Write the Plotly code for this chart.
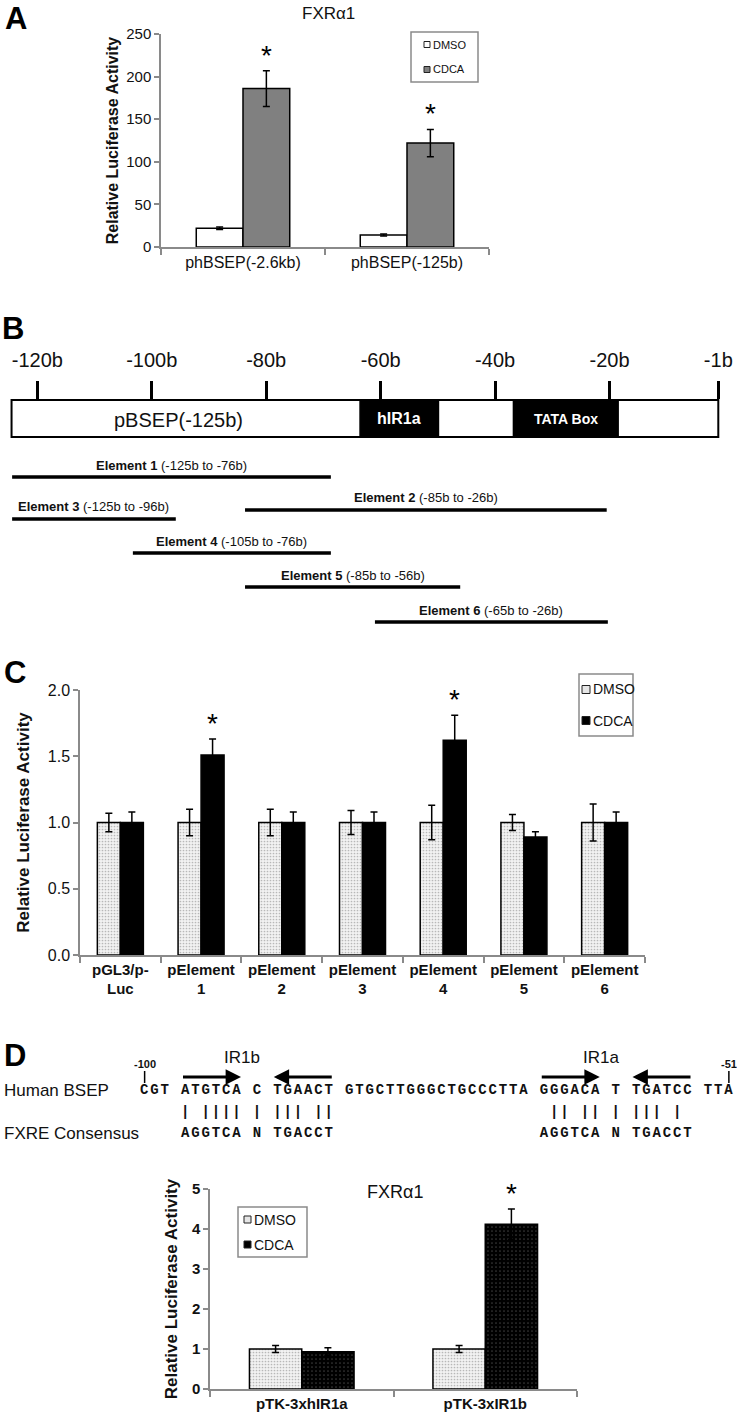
import plotly.graph_objects as go

W, H = 737, 1422

# ---------------- Panel A data ----------------
a_categories = ["phBSEP(-2.6kb)", "phBSEP(-125b)"]
a_dmso = [22, 14]
a_dmso_err = [1.5, 1.2]
a_cdca = [186, 122]
a_cdca_err = [21, 16]
a_significant = [True, True]

# ---------------- Panel B data (promoter map) ----------------
b_tick_values = [-120, -100, -80, -60, -40, -20, -1]
b_tick_labels = ["-120b", "-100b", "-80b", "-60b", "-40b", "-20b", "-1b"]
b_construct = "pBSEP(-125b)"
b_construct_start = -124.5
b_construct_end = -1
b_feature_names = ["hIR1a", "TATA Box"]
b_feature_start = [-63.6, -36.8]
b_feature_end = [-49.9, -18.5]
b_element_names = ["Element 1", "Element 2", "Element 3", "Element 4", "Element 5", "Element 6"]
b_element_ranges = ["(-125b to -76b)", "(-85b to -26b)", "(-125b to -96b)",
                    "(-105b to -76b)", "(-85b to -56b)", "(-65b to -26b)"]
b_element_draw_start = [-124.4, -83.7, -124.4, -103.3, -83.7, -61.0]
b_element_draw_end = [-68.7, -20.5, -95.8, -68.7, -46.1, -20.3]

# ---------------- Panel C data ----------------
c_categories = ["pGL3/p-<br>Luc", "pElement<br>1", "pElement<br>2", "pElement<br>3",
                "pElement<br>4", "pElement<br>5", "pElement<br>6"]
c_dmso = [1.0, 1.0, 1.0, 1.0, 1.0, 1.0, 1.0]
c_dmso_err = [0.07, 0.10, 0.10, 0.09, 0.13, 0.06, 0.14]
c_cdca = [1.0, 1.51, 1.0, 1.0, 1.62, 0.89, 1.0]
c_cdca_err = [0.08, 0.12, 0.08, 0.08, 0.19, 0.04, 0.08]
c_significant = [False, True, False, False, True, False, False]

# ---------------- Panel D data (sequence) ----------------
d_seq_start_label = "-100"
d_seq_end_label = "-51"
d_human_groups = ["CGT", "ATGTCA", "C", "TGAACT", "GTGCTTGGGCTGCCCTTA", "GGGACA", "T", "TGATCC", "TTA"]
d_consensus_groups = ["", "AGGTCA", "N", "TGACCT", "", "AGGTCA", "N", "TGACCT", ""]
d_ir_names = ["IR1b", "IR1a"]
d_ir_right_group = [1, 5]
d_ir_left_group = [3, 7]

# ---------------- Panel D data (chart) ----------------
d_categories = ["pTK-3xhIR1a", "pTK-3xIR1b"]
d_dmso = [1.0, 1.0]
d_dmso_err = [0.09, 0.09]
d_cdca = [0.93, 4.12]
d_cdca_err = [0.10, 0.38]
d_significant = [False, True]

# ======================================================================
FONT = "Arial, 'Liberation Sans', sans-serif"
MONO = "'Liberation Mono', 'Courier New', monospace"
AX = "#8a8a8a"
TXT = "#111111"
NBSP = "\u00a0"


def fx(px):
    return px / W


def fy(py):
    return 1 - py / H


fig = go.Figure()
annotations = []
shapes = []


def ann(**kw):
    kw.setdefault("xanchor", "center")
    kw.setdefault("yanchor", "middle")
    kw.setdefault("showarrow", False)
    kw.setdefault("xref", "paper")
    kw.setdefault("yref", "paper")
    annotations.append(kw)


BW = 0.285


def add_pair(xa, ya, cats, dm, dme, cd, cde, dm_marker, cd_marker, sig, star_size):
    for name, vals, errs, mk, off in [("DMSO", dm, dme, dm_marker, -BW), ("CDCA", cd, cde, cd_marker, 0.0)]:
        fig.add_trace(go.Bar(
            x=cats, y=vals, name=name, xaxis=xa, yaxis=ya, width=BW, offset=off,
            marker=mk, showlegend=False,
            error_y=dict(type="data", array=errs, visible=True, color="black", thickness=1.5, width=3.5),
        ))
    for i, s in enumerate(sig):
        if s:
            ann(x=i + BW / 2, y=cd[i] + cde[i], xref=xa, yref=ya, text="*",
                yanchor="bottom", yshift=-2, font=dict(family=FONT, size=star_size, color="black"))


# Panel A bars
add_pair("x", "y", a_categories, a_dmso, a_dmso_err, a_cdca, a_cdca_err,
         dict(color="white", line=dict(color="black", width=1.5)),
         dict(color="#808080", line=dict(color="black", width=1.5)),
         a_significant, 28)

# Panel C bars
dot_light = dict(color="#f2f2f2", line=dict(color="black", width=1.5),
                 pattern=dict(shape=".", bgcolor="#f2f2f2", fgcolor="#b8b8b8", size=3, solidity=0.25,
                              fillmode="replace"))
solid_black = dict(color="black", line=dict(color="black", width=1.5))
add_pair("x3", "y3", c_categories, c_dmso, c_dmso_err, c_cdca, c_cdca_err,
         dot_light, solid_black, c_significant, 28)

# Panel D bars
dot_dark = dict(color="black", line=dict(color="black", width=1.5),
                pattern=dict(shape=".", bgcolor="#000000", fgcolor="#3a3a3a", size=4, solidity=0.15,
                             fillmode="replace"))
add_pair("x4", "y4", d_categories, d_dmso, d_dmso_err, d_cdca, d_cdca_err,
         dot_light, dot_dark, d_significant, 28)


# ---------------- Axes ----------------
def cat_axis(px0, px1, anchor, n, tickfont):
    return dict(domain=[fx(px0), fx(px1)], anchor=anchor, range=[-0.5, n - 0.5],
                showline=True, linecolor=AX, linewidth=1.5, ticks="outside", tickson="boundaries",
                ticklen=6, tickcolor=AX, tickwidth=1.5, showgrid=False, zeroline=False,
                tickfont=tickfont, tickangle=0, automargin=False, fixedrange=True)


def val_axis(py_top, py_bot, anchor, rng, dtick, tickfont, title, tsize, standoff, fmt=None):
    d = dict(domain=[fy(py_bot), fy(py_top)], anchor=anchor, range=rng, dtick=dtick, tick0=0,
             showline=True, linecolor=AX, linewidth=1.5, ticks="outside", ticklen=5,
             tickcolor=AX, tickwidth=1.5, showgrid=False, zeroline=False, tickfont=tickfont,
             title=dict(text=title, font=dict(family=FONT, size=tsize, color=TXT, weight="bold"),
                        standoff=standoff), automargin=False, fixedrange=True)
    if fmt:
        d["tickformat"] = fmt
    return d


layout_axes = {}
layout_axes["xaxis"] = cat_axis(161, 489, "y", len(a_categories), dict(family=FONT, size=16, color=TXT))
layout_axes["yaxis"] = val_axis(34, 247, "x", [0, 250], 50, dict(family=FONT, size=15, color=TXT),
                                "Relative Luciferase Activity", 16, 4)
layout_axes["xaxis3"] = cat_axis(80, 645, "y3", len(c_categories),
                                 dict(family=FONT, size=15, color=TXT, weight="bold"))
layout_axes["yaxis3"] = val_axis(690, 955, "x3", [0, 2], 0.5, dict(family=FONT, size=16, color=TXT),
                                 "Relative Luciferase Activity", 17, 14, ".1f")
layout_axes["xaxis4"] = cat_axis(210, 577, "y4", len(d_categories),
                                 dict(family=FONT, size=15, color=TXT, weight="bold"))
layout_axes["yaxis4"] = val_axis(1189, 1389, "x4", [0, 5], 1,
                                 dict(family=FONT, size=15, color=TXT, weight="bold"),
                                 "Relative Luciferase Activity", 17, 10)

# Panel B ruler axis: -120 at px 37.3, -1 at px 718.3
B_PX_A, B_PX_B = 37.3, 718.3
slope = (B_PX_B - B_PX_A) / (b_tick_values[-1] - b_tick_values[0])
b_range = [b_tick_values[0] - B_PX_A / slope, b_tick_values[-1] + (W - B_PX_B) / slope]
BOX_TOP, BOX_BOT = 400, 437
layout_axes["xaxis2"] = dict(domain=[0, 1], anchor="y2", range=b_range, side="top",
                             showline=False, showgrid=False, zeroline=False,
                             tickmode="array", tickvals=b_tick_values, ticktext=b_tick_labels,
                             ticks="outside", ticklen=18, tickwidth=2.5, tickcolor="black",
                             tickfont=dict(family=FONT, size=20, color=TXT),
                             ticklabelstandoff=6, automargin=False, fixedrange=True)
layout_axes["yaxis2"] = dict(domain=[fy(BOX_BOT), fy(BOX_TOP)], anchor="x2", range=[0, 1],
                             visible=False, automargin=False, fixedrange=True)
fig.add_trace(go.Scatter(x=[b_construct_start, b_construct_end], y=[0.5, 0.5], xaxis="x2", yaxis="y2",
                         mode="markers", marker=dict(opacity=0), hoverinfo="skip", showlegend=False))

# construct box and features
shapes.append(dict(type="rect", xref="x2", yref="paper", x0=b_construct_start, x1=b_construct_end,
                   y0=fy(BOX_BOT), y1=fy(BOX_TOP), line=dict(color="black", width=2), fillcolor="white"))
for name, s, e in zip(b_feature_names, b_feature_start, b_feature_end):
    shapes.append(dict(type="rect", xref="x2", yref="paper", x0=s, x1=e,
                       y0=fy(BOX_BOT), y1=fy(BOX_TOP), line=dict(color="black", width=1.5),
                       fillcolor="black"))
    ann(x=(s + e) / 2, y=fy((BOX_TOP + BOX_BOT) / 2), xref="x2",
        text=f"<b>{name}</b>",
        font=dict(family=FONT, size=16 if name == "hIR1a" else 14, color="white"))
ann(x=(b_construct_start + b_feature_start[0]) / 2 - 1.2, y=fy((BOX_TOP + BOX_BOT) / 2 + 1),
    xref="x2", text=b_construct, font=dict(family=FONT, size=20, color=TXT))

# elements
element_row_y = [477, 510, 519, 553, 587, 622]
for name, rng, s, e, ry in zip(b_element_names, b_element_ranges, b_element_draw_start,
                               b_element_draw_end, element_row_y):
    shapes.append(dict(type="line", xref="x2", yref="paper", x0=s, x1=e, y0=fy(ry), y1=fy(ry),
                       line=dict(color="black", width=3.5)))
    ann(x=(s + e) / 2, y=fy(ry - 12), xref="x2",
        text=f"<b>{name}</b> {rng}", font=dict(family=FONT, size=13, color=TXT))

# ---------------- Panel D sequence ----------------
SEQ_X0 = 139.5
PITCH = 10.25
MONO_SIZE = 14
LS = PITCH - 0.6 * MONO_SIZE

human_row = NBSP.join(d_human_groups)
cons_row = NBSP.join(c if c else NBSP * len(h) for c, h in zip(d_consensus_groups, d_human_groups))
match_row = "".join("|" if (c != NBSP and (c == h or c == "N")) else NBSP
                    for h, c in zip(human_row, cons_row))

group_start = []
col = 0
for g in d_human_groups:
    group_start.append(col)
    col += len(g) + 1


def col_x(c):
    return SEQ_X0 + c * PITCH


for row, ry in [(human_row, 1090), (match_row, 1112), (cons_row, 1133)]:
    ann(x=fx(SEQ_X0), y=fy(ry), xanchor="left", borderpad=0, borderwidth=0,
        text=f'<span style="letter-spacing:{LS:.2f}px"><b>{row}</b></span>',
        font=dict(family=MONO, size=MONO_SIZE, color=TXT))

ann(x=fx(2), y=fy(1090), xanchor="left", text="Human BSEP", font=dict(family=FONT, size=17, color=TXT))
ann(x=fx(2), y=fy(1133), xanchor="left", text="FXRE Consensus", font=dict(family=FONT, size=17, color=TXT))

# position labels -100 / -51
for lab, c in [(d_seq_start_label, 0), (d_seq_end_label, len(human_row) - 1)]:
    cx = col_x(c + 0.5)
    ann(x=fx(cx), y=fy(1064), text=f"<b>{lab}</b>", font=dict(family=FONT, size=11, color=TXT))
    shapes.append(dict(type="line", xref="paper", yref="paper", x0=fx(cx), x1=fx(cx),
                       y0=fy(1071), y1=fy(1083), line=dict(color="black", width=1.5)))

# IR arrows and labels
ARROW_Y = 1077
for name, rg, lg in zip(d_ir_names, d_ir_right_group, d_ir_left_group):
    rs = col_x(group_start[rg]) + 1
    re_ = col_x(group_start[rg] + len(d_human_groups[rg])) - 1
    ann(x=fx(re_), y=fy(ARROW_Y), text="", showarrow=True, ax=rs - re_, ay=0,
        arrowhead=2, arrowsize=1.1, arrowwidth=2.8, arrowcolor="black")
    ls_ = col_x(group_start[lg]) + 1
    le_ = col_x(group_start[lg] + len(d_human_groups[lg])) - 1
    ann(x=fx(ls_), y=fy(ARROW_Y), text="", showarrow=True, ax=le_ - ls_, ay=0,
        arrowhead=2, arrowsize=1.1, arrowwidth=2.8, arrowcolor="black")
    spacer = group_start[rg + 1]
    ann(x=fx(col_x(spacer - 1.0)), y=fy(1057), text=name, font=dict(family=FONT, size=17, color=TXT))


# ---------------- Manual legends ----------------
def legend_box(x0, y0, x1, y1, sw_off, sw, fs, items):
    shapes.append(dict(type="rect", xref="paper", yref="paper", x0=fx(x0), x1=fx(x1),
                       y0=fy(y1), y1=fy(y0), line=dict(color="#8a8a8a", width=1.5),
                       fillcolor="white"))
    n = len(items)
    for k, (label, fill) in enumerate(items):
        cy = y0 + (y1 - y0) * (k + 0.5) / n
        sx = x0 + sw_off
        shapes.append(dict(type="rect", xref="paper", yref="paper", x0=fx(sx), x1=fx(sx + sw),
                           y0=fy(cy + sw / 2), y1=fy(cy - sw / 2),
                           line=dict(color="#222", width=1), fillcolor=fill))
        ann(x=fx(sx + sw + 1.5), y=fy(cy), xanchor="left", borderpad=0, text=label,
            font=dict(family=FONT, size=fs, color=TXT))


legend_box(411, 32, 478, 82, 13, 6, 11, [("DMSO", "white"), ("CDCA", "#808080")])
legend_box(579, 674, 633, 736, 3, 8, 14, [("DMSO", "#e6e6e6"), ("CDCA", "black")])
legend_box(238, 1207, 307, 1257, 6, 7, 14, [("DMSO", "#e6e6e6"), ("CDCA", "black")])

# ---------------- Titles & panel letters ----------------
ann(x=fx(328), y=fy(14), text="FXR\u03b11", font=dict(family=FONT, size=17, color=TXT))
ann(x=fx(395), y=fy(1192), text="FXR\u03b11", font=dict(family=FONT, size=18, color=TXT))
for letter, (lx, ly) in zip(["A", "B", "C", "D"], [(16, 19), (13, 328), (15, 672), (15, 1055)]):
    ann(x=fx(lx), y=fy(ly), text=f"<b>{letter}</b>", font=dict(family=FONT, size=31, color="black"))

fig.update_layout(
    template="none",
    width=W, height=H, autosize=False,
    margin=dict(l=0, r=0, t=0, b=0, pad=0),
    paper_bgcolor="white", plot_bgcolor="white",
    barmode="overlay", showlegend=False,
    font=dict(family=FONT, color=TXT),
    shapes=shapes, annotations=annotations,
    **layout_axes,
)

# remove the browser's default 8px body margin so the 737x1422 figure fills the window
fig.write_html("out.html", config={"displayModeBar": False},
               post_script="document.body.style.margin='0';document.body.style.overflow='hidden';")
